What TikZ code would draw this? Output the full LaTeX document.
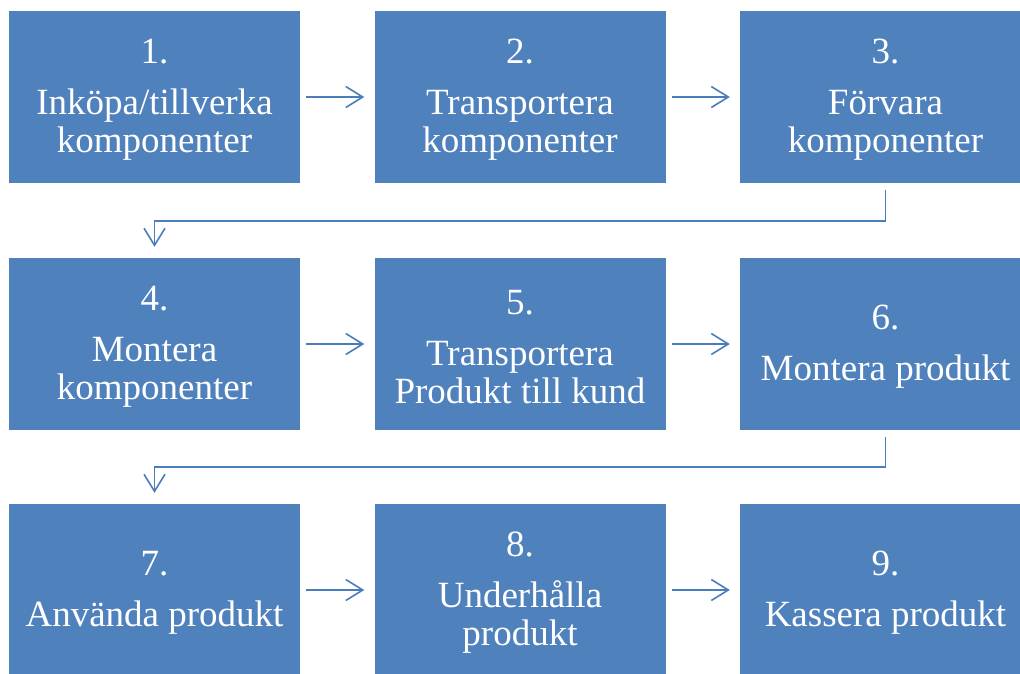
\documentclass[tikz,border=0pt]{standalone}
\usepackage{fontspec}
\setmainfont{Liberation Serif}
\usetikzlibrary{arrows.meta}
\definecolor{boxblue}{HTML}{4F81BD}
\definecolor{arrowblue}{HTML}{4A7EBB}
\begin{document}
\begin{tikzpicture}[x=1pt,y=-1pt,
  stepbox/.style={fill=boxblue, draw=none, minimum width=291pt, minimum height=172pt,
    inner sep=0pt, text=white, align=center,
    font=\fontsize{37}{38}\selectfont},
  steptext/.style={text=white, align=center, inner sep=0pt,
    font=\fontsize{37}{38}\selectfont},
  arr/.style={draw=arrowblue, line width=1.6pt,
    -{Straight Barb[length=17pt,width=21pt,line width=1.6pt]}}]
\clip (0,0) rectangle (1020,673);
\fill[white] (0,0) rectangle (1020,673);
% boxes
\node[stepbox] (b1) at (154.5,97) {};
\node[stepbox] (b2) at (520,97) {};
\node[stepbox] (b3) at (885.5,97) {};
\node[stepbox] (b4) at (154.5,344) {};
\node[stepbox] (b5) at (520,344) {};
\node[stepbox] (b6) at (885.5,344) {};
\node[stepbox] (b7) at (154.5,590) {};
\node[stepbox] (b8) at (520,590) {};
\node[stepbox] (b9) at (885.5,590) {};
% labels
\node[steptext] (t1) at ([yshift=-3pt]b1.center) {1.\\[13pt]Inköpa/tillverka\\komponenter};
\node[steptext] (t2) at ([yshift=-3pt]b2.center) {2.\\[13pt]Transportera\\komponenter};
\node[steptext] (t3) at ([yshift=-3pt]b3.center) {3.\\[13pt]Förvara\\komponenter};
\node[steptext] (t4) at ([yshift=-3pt]b4.center) {4.\\[13pt]Montera\\komponenter};
\node[steptext] (t5) at ([yshift=-3pt]b5.center) {5.\\[13pt]Transportera\\Produkt till kund};
\node[steptext] (t6) at ([yshift=-3pt]b6.center) {6.\\[13pt]Montera produkt};
\node[steptext] (t7) at ([yshift=-3pt]b7.center) {7.\\[13pt]Använda produkt};
\node[steptext] (t8) at ([yshift=-3pt]b8.center) {8.\\[13pt]Underhålla\\produkt};
\node[steptext] (t9) at ([yshift=-3pt]b9.center) {9.\\[13pt]Kassera produkt};
% horizontal arrows
\draw[arr] ([xshift=6pt]b1.east) -- ([xshift=-10pt]b2.west);
\draw[arr] ([xshift=6pt]b2.east) -- ([xshift=-10pt]b3.west);
\draw[arr] ([xshift=6pt]b4.east) -- ([xshift=-10pt]b5.west);
\draw[arr] ([xshift=6pt]b5.east) -- ([xshift=-10pt]b6.west);
\draw[arr] ([xshift=6pt]b7.east) -- ([xshift=-10pt]b8.west);
\draw[arr] ([xshift=6pt]b8.east) -- ([xshift=-10pt]b9.west);
% elbow arrows
\draw[arr] ([yshift=-7pt]b3.south) -- ([yshift=-38pt]b3.south) -| ([yshift=11pt]b4.north);
\draw[arr] ([yshift=-7pt]b6.south) -- ([yshift=-37pt]b6.south) -| ([yshift=11pt]b7.north);
\end{tikzpicture}
\end{document}
